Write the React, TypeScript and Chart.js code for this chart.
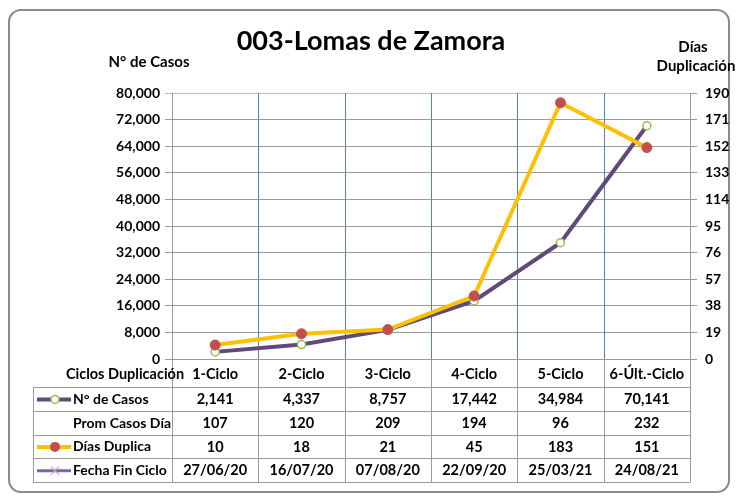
import React, { useEffect, useRef } from "react";
import { Chart, registerables } from "chart.js";

Chart.register(...registerables);

const categories = ["1-Ciclo", "2-Ciclo", "3-Ciclo", "4-Ciclo", "5-Ciclo", "6-Últ.-Ciclo"];
const casos = [2141, 4337, 8757, 17442, 34984, 70141];
const promCasosDia = [107, 120, 209, 194, 96, 232];
const diasDuplica = [10, 18, 21, 45, 183, 151];
const fechaFinCiclo = ["27/06/20", "16/07/20", "07/08/20", "22/09/20", "25/03/21", "24/08/21"];
const leftMax = 80000;
const leftStep = 8000;
const rightMax = 190;
const rightStep = 19;
const titleText = "003-Lomas de Zamora";
const leftAxisTitle = "N° de Casos";
const rightAxisTitle = ["Días", "Duplicación"];
const tableHeader = "Ciclos Duplicación";
const rowLabels = ["N° de Casos", "Prom Casos Día", "Días Duplica", "Fecha Fin Ciclo"];

const FONT = "Lato, 'Open Sans', sans-serif";
const fmt = (v: number) => v.toLocaleString("en-US");

const PURPLE = "#604a7b";
const GREEN = "#9bbb59";
const YELLOW = "#ffc000";
const RED = "#c0504d";
const LAVENDER = "#8064a2";
const GRAY = "#9a9a9a";

const decorPlugin = {
  id: "decor",
  beforeDraw(chart: any) {
    const ctx = chart.ctx;
    ctx.save();
    ctx.fillStyle = "#ffffff";
    ctx.fillRect(0, 0, chart.width, chart.height);
    ctx.strokeStyle = "#8a8a8a";
    ctx.lineWidth = 2;
    ctx.beginPath();
    (ctx as any).roundRect(9, 10, 720, 482, 12);
    ctx.stroke();
    ctx.restore();
  },
  beforeDatasetsDraw(chart: any) {
    const ctx = chart.ctx;
    const { left, right, top, bottom } = chart.chartArea;
    const n = categories.length;
    const w = (right - left) / n;
    ctx.save();
    ctx.strokeStyle = "#5a7fb8";
    ctx.lineWidth = 1;
    for (let i = 1; i < n; i++) {
      const xx = Math.round(left + i * w) + 0.5;
      ctx.beginPath();
      ctx.moveTo(xx, top);
      ctx.lineTo(xx, bottom);
      ctx.stroke();
    }
    ctx.restore();
  },
  afterDraw(chart: any) {
    const ctx = chart.ctx;
    const { left, right, bottom } = chart.chartArea;
    const n = categories.length;
    const w = (right - left) / n;
    ctx.save();
    // Title
    ctx.fillStyle = "#000";
    ctx.textAlign = "center";
    ctx.textBaseline = "alphabetic";
    ctx.font = `bold 27px ${FONT}`;
    ctx.fillText(titleText, 371, 50);
    // axis titles
    ctx.font = `bold 15px ${FONT}`;
    ctx.textBaseline = "middle";
    ctx.fillText(leftAxisTitle, 149, 62);
    ctx.fillText(rightAxisTitle[0], 693, 47);
    ctx.fillText(rightAxisTitle[1], 696, 66);

    // Table
    const tableLeft = 33;
    const headTop = bottom;
    const rowTop = 387;
    const rowH = 23.75;
    const tableBottom = rowTop + rowH * 4;
    ctx.strokeStyle = GRAY;
    ctx.lineWidth = 1;
    for (let i = 0; i <= n; i++) {
      const xx = Math.round(left + i * w) + 0.5;
      ctx.beginPath();
      ctx.moveTo(xx, headTop);
      ctx.lineTo(xx, tableBottom);
      ctx.stroke();
    }
    ctx.beginPath();
    ctx.moveTo(tableLeft + 0.5, rowTop);
    ctx.lineTo(tableLeft + 0.5, tableBottom);
    ctx.stroke();
    for (let r = 0; r <= 4; r++) {
      const yy = Math.round(rowTop + r * rowH) + 0.5;
      ctx.beginPath();
      ctx.moveTo(tableLeft, yy);
      ctx.lineTo(right + 0.5, yy);
      ctx.stroke();
    }

    ctx.fillStyle = "#000";
    ctx.font = `bold 14.5px ${FONT}`;
    ctx.textAlign = "center";
    ctx.textBaseline = "middle";
    ctx.fillText(tableHeader, 125, 374);
    categories.forEach((c, i) => ctx.fillText(c, left + (i + 0.5) * w, 374));

    const rows = [casos.map(fmt), promCasosDia.map(fmt), diasDuplica.map(fmt), fechaFinCiclo];
    rows.forEach((vals, r) => {
      const cy = rowTop + r * rowH + rowH / 2 + 0.5;
      ctx.textAlign = "left";
      ctx.fillStyle = "#000";
      ctx.font = `bold 14px ${FONT}`;
      ctx.fillText(rowLabels[r], 73, cy);
      ctx.font = `bold 14.5px ${FONT}`;
      ctx.textAlign = "center";
      vals.forEach((v, i) => ctx.fillText(String(v), left + (i + 0.5) * w, cy));
      // legend symbols
      const sx1 = 37, sx2 = 71, mx = 55;
      if (r === 0) {
        ctx.strokeStyle = PURPLE; ctx.lineWidth = 4;
        ctx.beginPath(); ctx.moveTo(sx1, cy); ctx.lineTo(sx2, cy); ctx.stroke();
        ctx.fillStyle = "#fff"; ctx.strokeStyle = GREEN; ctx.lineWidth = 1.5;
        ctx.beginPath(); ctx.arc(mx, cy, 4, 0, Math.PI * 2); ctx.fill(); ctx.stroke();
      } else if (r === 2) {
        ctx.strokeStyle = YELLOW; ctx.lineWidth = 4;
        ctx.beginPath(); ctx.moveTo(sx1, cy); ctx.lineTo(sx2, cy); ctx.stroke();
        ctx.fillStyle = RED;
        ctx.beginPath(); ctx.arc(mx, cy, 5, 0, Math.PI * 2); ctx.fill();
      } else if (r === 3) {
        ctx.strokeStyle = LAVENDER; ctx.lineWidth = 3;
        ctx.beginPath(); ctx.moveTo(sx1, cy); ctx.lineTo(sx2, cy); ctx.stroke();
        ctx.strokeStyle = "#b7a6d0"; ctx.lineWidth = 1.2;
        ctx.beginPath();
        ctx.moveTo(mx - 4, cy - 4); ctx.lineTo(mx + 4, cy + 4);
        ctx.moveTo(mx + 4, cy - 4); ctx.lineTo(mx - 4, cy + 4);
        ctx.stroke();
      }
      ctx.fillStyle = "#000";
    });
    ctx.restore();
  },
};

export default function App() {
  const ref = useRef<HTMLCanvasElement | null>(null);
  useEffect(() => {
    document.body.style.margin = "0";
    if (!ref.current) return;
    const chart = new Chart(ref.current, {
      type: "line",
      data: {
        labels: categories,
        datasets: [
          {
            label: "Días Duplica",
            data: diasDuplica,
            yAxisID: "y1",
            borderColor: YELLOW,
            borderWidth: 4,
            pointRadius: 5,
            pointBackgroundColor: RED,
            pointBorderColor: RED,
            pointBorderWidth: 1,
            tension: 0,
            order: 0,
          },
          {
            label: "N° de Casos",
            data: casos,
            yAxisID: "y",
            borderColor: PURPLE,
            borderWidth: 4,
            pointRadius: 4,
            pointBackgroundColor: "#ffffff",
            pointBorderColor: GREEN,
            pointBorderWidth: 1.5,
            tension: 0,
            order: 1,
          },
        ],
      },
      options: {
        animation: false,
        responsive: false,
        layout: { padding: { left: 0, right: 0, top: 93, bottom: 141 } },
        plugins: { legend: { display: false }, title: { display: false }, tooltip: { enabled: false } },
        scales: {
          x: { display: false, offset: true },
          y: {
            position: "left",
            min: 0,
            max: leftMax,
            afterFit: (s: any) => { s.width = 172; },
            ticks: {
              stepSize: leftStep,
              callback: (v: any) => fmt(Number(v)),
              color: "#000",
              font: { family: FONT, size: 14, weight: "bold" },
              padding: 5,
            },
            grid: {
              color: (c: any) => (c.tick && c.tick.value === leftMax ? "#a9c0e0" : "#9a9a9a"),
              tickLength: 7,
              lineWidth: 1,
            },
            border: { color: GRAY },
          },
          y1: {
            position: "right",
            min: 0,
            max: rightMax,
            afterFit: (s: any) => { s.width = 46; },
            ticks: {
              stepSize: rightStep,
              color: "#000",
              font: { family: FONT, size: 14, weight: "bold" },
              padding: 8,
            },
            grid: { drawOnChartArea: false, tickLength: 7, color: GRAY },
            border: { color: GRAY },
          },
        },
      },
      plugins: [decorPlugin],
    } as any);
    return () => chart.destroy();
  }, []);
  return <canvas ref={ref} width={736} height={500} style={{ display: "block", width: 736, height: 500 }} />;
}
